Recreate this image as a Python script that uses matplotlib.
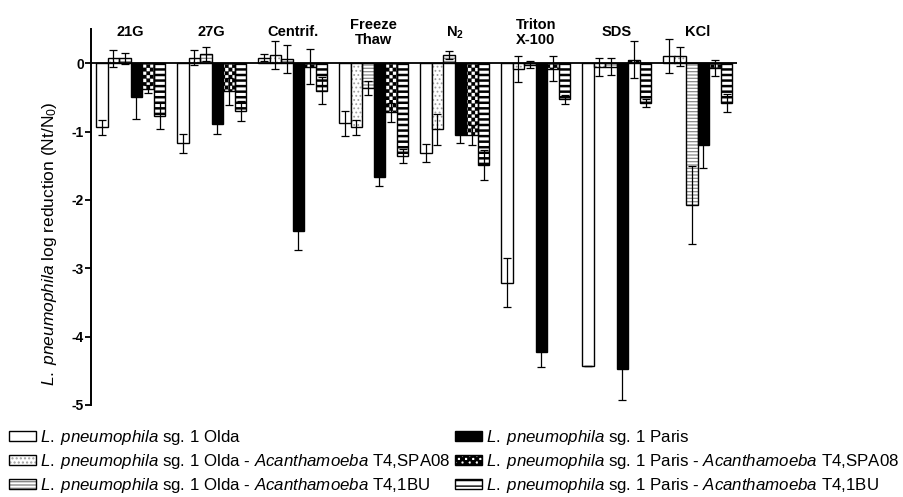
import matplotlib
matplotlib.use("Agg")
import matplotlib.pyplot as plt
from matplotlib.patches import Patch
from matplotlib.path import Path
import matplotlib.hatch as mhatch
import numpy as np

plt.rcParams['font.family'] = ['Liberation Sans', 'DejaVu Sans']
plt.rcParams['mathtext.fontset'] = 'custom'
plt.rcParams['mathtext.rm'] = 'Liberation Sans'
plt.rcParams['mathtext.it'] = 'Liberation Sans:italic'
plt.rcParams['mathtext.bf'] = 'Liberation Sans:bold'

groups = ["21G", "27G", "Centrif.", "Freeze\nThaw", "N$_\\mathbf{2}$", "Triton\nX-100", "SDS", "KCl"]

olda = [-0.94, -1.17, 0.08, -0.88, -1.31, -3.21, -4.43, 0.10]
olda_err = [0.11, 0.14, 0.05, 0.18, 0.13, 0.36, 0.0, 0.25]
olda_spa = [0.07, 0.08, 0.12, -0.94, -0.97, -0.08, -0.06, 0.10]
olda_spa_err = [0.13, 0.11, 0.20, 0.11, 0.23, 0.19, 0.13, 0.14]
olda_1bu = [0.07, 0.13, 0.06, -0.36, 0.12, -0.02, -0.05, -2.07]
olda_1bu_err = [0.08, 0.10, 0.21, 0.10, 0.06, 0.05, 0.12, 0.57]
paris = [-0.50, -0.89, -2.46, -1.67, -1.05, -4.23, -4.47, -1.19]
paris_err = [0.32, 0.14, 0.27, 0.12, 0.12, 0.21, 0.46, 0.34]
paris_spa = [-0.38, -0.41, -0.05, -0.72, -1.05, -0.08, 0.05, -0.07]
paris_spa_err = [0.06, 0.20, 0.26, 0.14, 0.15, 0.18, 0.27, 0.12]
paris_1bu = [-0.77, -0.70, -0.40, -1.36, -1.49, -0.53, -0.58, -0.58]
paris_1bu_err = [0.20, 0.14, 0.20, 0.10, 0.22, 0.06, 0.06, 0.13]

LP = r"$\mathit{L.\;pneumophila}$"
AC = r"$\mathit{Acanthamoeba}$"
labels = [
    LP + " sg. 1 Olda",
    LP + " sg. 1 Olda - " + AC + " T4,SPA08",
    LP + " sg. 1 Olda - " + AC + " T4,1BU",
    LP + " sg. 1 Paris",
    LP + " sg. 1 Paris - " + AC + " T4,SPA08",
    LP + " sg. 1 Paris - " + AC + " T4,1BU",
]

series = [olda, olda_spa, olda_1bu, paris, paris_spa, paris_1bu]
errors = [olda_err, olda_spa_err, olda_1bu_err, paris_err, paris_spa_err, paris_1bu_err]


# --- checkerboard hatch (replaces the 'O' pattern) ---
class CheckerHatch(mhatch.HatchPatternBase):
    def __init__(self, hatch, density):
        n = int(hatch.count('O') * density * 7 // 6)
        if n % 2:
            n += 1
        self.n = n
        if n > 0:
            cnt = sum(1 for r in range(n) for c in range(n) if (r + c) % 2 == 0)
            self.num_vertices = cnt * 5
        else:
            self.num_vertices = 0

    def set_vertices_and_codes(self, vertices, codes):
        s = 1.0 / self.n
        k = 0
        for r in range(self.n):
            for c in range(self.n):
                if (r + c) % 2 == 0:
                    x0, y0 = c * s, r * s
                    vertices[k:k + 5] = [(x0, y0), (x0 + s, y0), (x0 + s, y0 + s),
                                         (x0, y0 + s), (x0, y0)]
                    codes[k] = Path.MOVETO
                    codes[k + 1:k + 4] = Path.LINETO
                    codes[k + 4] = Path.CLOSEPOLY
                    k += 5


checker_hatch = 'xxxx'
try:
    mhatch._hatch_types = [CheckerHatch if t is mhatch.LargeCircles else t
                           for t in mhatch._hatch_types]
    mhatch.get_path('OOOO', 6)
    checker_hatch = 'OOOO'
    checker_lw = 0.2
except Exception:
    checker_lw = 1.6

# style: (face, hatch, hatchcolor, hatch_lw)
styles = [
    ('white', None, None, 1.0),
    ('white', '....', '#a0a0a0', 0.8),
    ('white', '-----', '#8a8a8a', 0.9),
    ('black', None, None, 1.0),
    ('white', checker_hatch, 'black', checker_lw),
    ('white', '---', 'black', 1.8),
]

W, H = 904, 497
fig = plt.figure(figsize=(W / 100, H / 100), dpi=100)
left, right, top, bottom = 91, 737, 29, 405
ax = fig.add_axes([left / W, 1 - bottom / H, (right - left) / W, (bottom - top) / H])

ngroups = len(groups)
base = np.arange(ngroups) * 7.0
bw = 1.0

legend_handles = []
for j, (vals, errs, st) in enumerate(zip(series, errors, styles)):
    face, hatch, hcol, hlw = st
    x = base + j
    with plt.rc_context({'hatch.linewidth': hlw}):
        if hatch is None:
            ax.bar(x, vals, width=bw, color=face, edgecolor='black', linewidth=1.0, zorder=2)
            h = Patch(facecolor=face, edgecolor='black', linewidth=1.0)
        else:
            bars = ax.bar(x, vals, width=bw, color=face, edgecolor=hcol, linewidth=0,
                          hatch=hatch, zorder=2)
            for b in bars:
                if hasattr(b, 'set_hatch_linewidth'):
                    b.set_hatch_linewidth(hlw)
            ax.bar(x, vals, width=bw, fill=False, edgecolor='black', linewidth=1.0, zorder=2.1)
            h1 = Patch(facecolor=face, edgecolor=hcol, linewidth=0, hatch=hatch)
            if hasattr(h1, 'set_hatch_linewidth'):
                h1.set_hatch_linewidth(hlw)
            h2 = Patch(fill=False, edgecolor='black', linewidth=1.0)
            h = (h1, h2)
    ax.errorbar(x, vals, yerr=errs, fmt='none', ecolor='black', elinewidth=0.9,
                capsize=2.6, capthick=0.9, zorder=3)
    legend_handles.append(h)

ax.axhline(0, color='black', linewidth=1.3, zorder=2.5)

x_left = -0.5 - 5 / 11.57
ax.set_xlim(x_left, x_left + (right - left) / 11.57)
ax.set_ylim(-5, 0.5)
ax.set_yticks([0, -1, -2, -3, -4, -5])
ax.set_yticklabels(['0', '-1', '-2', '-3', '-4', '-5'], fontweight='bold', fontsize=10)
ax.tick_params(axis='y', direction='out', length=4, width=1.3, pad=1)
ax.set_xticks([])
for s in ['top', 'right', 'bottom']:
    ax.spines[s].set_visible(False)
ax.spines['left'].set_linewidth(1.4)

for i, g in enumerate(groups):
    ax.text(base[i] + 2.5, 0.45, g, ha='center', va='center', fontsize=10.5,
            fontweight='bold', linespacing=1.05, clip_on=False)

fig.text(50 / W, 1 - 244 / H, LP + " log reduction (Nt/N$_0$)",
         rotation=90, ha='center', va='center', fontsize=12.5)

fig.legend(legend_handles, labels, ncol=2, loc='upper left',
           bbox_to_anchor=(9 / W, 1 - 428 / H), frameon=False, fontsize=12.2,
           handlelength=1.6, handleheight=0.58, handletextpad=0.2,
           columnspacing=0.3, labelspacing=0.3, borderpad=0, borderaxespad=0)

fig.savefig('out.png', dpi=100, facecolor='white')
